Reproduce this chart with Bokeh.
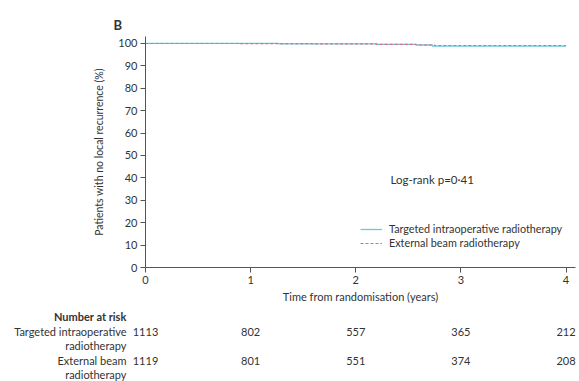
from bokeh.plotting import figure
from bokeh.models import Range1d, Label, Legend, LegendItem, FixedTicker, ColumnDataSource
from bokeh.core.properties import value
from bokeh.embed import file_html
from bokeh.resources import INLINE

# --- data ---
targit_time = [0, 1.27, 2.2, 2.58, 2.73, 4.0]
targit_surv = [100, 99.8, 99.6, 99.3, 98.8, 98.8]
ebrt_time = [0, 0.9, 1.6, 2.2, 2.57, 2.75, 4.0]
ebrt_surv = [100, 99.9, 99.8, 99.6, 99.3, 99.05, 99.05]

x_ticks = [0, 1, 2, 3, 4]
y_ticks = [0, 10, 20, 30, 40, 50, 60, 70, 80, 90, 100]

risk_times = [0, 1, 2, 3, 4]
risk_targit = [1113, 802, 557, 365, 212]
risk_ebrt = [1119, 801, 551, 374, 208]
row_labels = [["Targeted intraoperative", "radiotherapy"], ["External beam", "radiotherapy"]]

FONT = "Lato"
TXT = "#333333"
AX = "#555555"
BLUE = "#6cc8dc"
RED = "#e8668a"
FS = "11px"

W = 579
LEFT, RIGHT = 145, 4
XMAX = 4.09

p = figure(width=W, height=305, output_backend="svg", toolbar_location=None,
           x_range=Range1d(0, XMAX), y_range=Range1d(0, 103.1),
           min_border_left=LEFT, min_border_right=RIGHT, min_border_top=36, min_border_bottom=37,
           title="B")
p.outline_line_color = None
p.grid.visible = False
p.title.text_font = FONT
p.title.text_font_size = "13px"
p.title.text_font_style = "bold"
p.title.text_color = TXT
p.title.align = "left"
p.title.offset = -32
p.title.standoff = 8

for ax in (p.xaxis[0], p.yaxis[0]):
    ax.axis_line_color = AX
    ax.axis_line_width = 1
    ax.major_tick_line_color = AX
    ax.major_tick_out = 5
    ax.major_tick_in = 0
    ax.minor_tick_line_color = None
    ax.major_label_text_font = FONT
    ax.major_label_text_font_size = FS
    ax.major_label_text_color = TXT
    ax.axis_label_text_font = FONT
    ax.axis_label_text_font_size = FS
    ax.axis_label_text_font_style = "normal"
    ax.axis_label_text_color = TXT

p.xaxis.ticker = FixedTicker(ticks=x_ticks)
p.yaxis.ticker = FixedTicker(ticks=y_ticks)
p.xaxis.axis_label = "Time from randomisation (years)"
p.yaxis.axis_label = "Patients with no local recurrence (%)"
p.yaxis.axis_label_text_font_size = "10.5px"
p.xaxis.major_label_standoff = 3
p.xaxis.axis_label_standoff = 3
p.yaxis.major_label_standoff = 3
p.yaxis.axis_label_standoff = 10

r1 = p.step(targit_time, targit_surv, mode="after", line_color=BLUE, line_width=1.3)
r2 = p.step(ebrt_time, ebrt_surv, mode="after", line_color=RED, line_width=1.1, line_dash="3 2")

legend = Legend(items=[LegendItem(label="Targeted intraoperative radiotherapy", renderers=[r1]),
                       LegendItem(label="External beam radiotherapy", renderers=[r2])],
                location=(215, 18), orientation="vertical")
legend.background_fill_alpha = 0
legend.border_line_color = None
legend.label_text_font = FONT
legend.label_text_font_size = "10.8px"
legend.label_text_color = TXT
legend.glyph_width = 22
legend.glyph_height = 12
legend.label_standoff = 7
legend.spacing = 1
legend.padding = 0
legend.margin = 0
legend.label_height = 12
p.add_layout(legend, "center")

p.add_layout(Label(x=245, y=88, x_units="screen", y_units="screen", text="Log-rank p=0·41",
                   text_font=FONT, text_font_size="11.5px", text_color=TXT, text_baseline="middle"))

# --- Number at risk table (separate root, frame spans full width, x aligned to plot above) ---
H2 = 76
scale = (W - LEFT - RIGHT) / XMAX
t = figure(width=W, height=H2, output_backend="svg", toolbar_location=None,
           x_range=Range1d(-LEFT / scale, (W - LEFT) / scale), y_range=Range1d(H2, 0),
           min_border=0, min_border_left=0, min_border_right=0, min_border_top=0, min_border_bottom=0,
           x_axis_type=None, y_axis_type=None)
t.outline_line_color = None
t.grid.visible = False

HEAD_Y, ROW0, ROW_STEP, LINE_STEP = 11, 26, 29, 14

t.text(x=[0], y=[HEAD_Y], text=["Number at risk"], x_offset=-19,
       text_font=value(FONT), text_font_size=value(FS), text_font_style="bold", text_color=TXT,
       text_align="right", text_baseline="middle")

num_x, num_y, num_txt = [], [], []
lab_x, lab_y, lab_txt = [], [], []
for i, (counts, lines) in enumerate(zip([risk_targit, risk_ebrt], row_labels)):
    ry = ROW0 + ROW_STEP * i
    for tt, n in zip(risk_times, counts):
        num_x.append(tt); num_y.append(ry); num_txt.append(str(n))
    for k, line in enumerate(lines):
        lab_x.append(0); lab_y.append(ry + LINE_STEP * k); lab_txt.append(line)

t.text(x="x", y="y", text="text", source=ColumnDataSource(dict(x=num_x, y=num_y, text=num_txt)),
       text_font=value(FONT), text_font_size=value(FS), text_color=TXT,
       text_align="center", text_baseline="middle")
t.text(x="x", y="y", text="text", source=ColumnDataSource(dict(x=lab_x, y=lab_y, text=lab_txt)),
       x_offset=-19, text_font=value(FONT), text_font_size=value(FS), text_color=TXT,
       text_align="right", text_baseline="middle")

open("out.html", "w").write(file_html([p, t], INLINE))
